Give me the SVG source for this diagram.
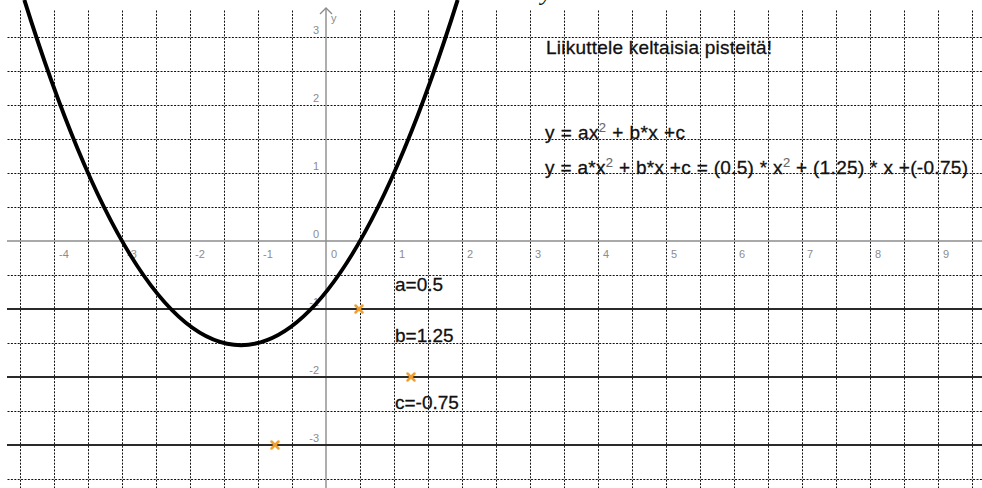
<svg xmlns="http://www.w3.org/2000/svg" width="982" height="488" viewBox="0 0 982 488">
  <style>
    .grid { stroke: #111; stroke-width: 1; stroke-dasharray: 2 1.4; fill: none; }
    .axis { stroke: #8c8c8c; stroke-width: 1.4; fill: none; }
    .slider { stroke: #2a2a2a; stroke-width: 2; fill: none; }
    .tick { font-family: "Liberation Sans", Arial, sans-serif; font-size: 11px; fill: #8c8c8c; }
    .lbl { font-family: "Liberation Sans", Arial, sans-serif; font-size: 19px; fill: #111; stroke: #111; stroke-width: 0.3; }
    .sup { font-size: 13px; fill: #666; stroke: #666; stroke-width: 0.1; }
    .pt { stroke: #f0a030; stroke-width: 2.5; stroke-linecap: round; }
  </style>
  <rect x="0" y="0" width="982" height="488" fill="#ffffff"/>

  <g id="grid" transform="translate(0.5,0.5)">
    <path class="grid" d="M20,10V488 M54,10V488 M88,10V488 M122,10V488 M156,10V488 M190,10V488 M224,10V488 M258,10V488 M292,10V488 M360,10V488 M394,10V488 M428,10V488 M462,10V488 M496,10V488 M530,10V488 M564,10V488 M598,10V488 M632,10V488 M666,10V488 M700,10V488 M734,10V488 M768,10V488 M802,10V488 M836,10V488 M870,10V488 M904,10V488 M938,10V488 M972,10V488"/>
    <path class="grid" d="M7,37H982 M7,71H982 M7,105H982 M7,139H982 M7,173H982 M7,207H982 M7,275H982 M7,309H982 M7,343H982 M7,377H982 M7,411H982 M7,445H982 M7,479H982"/>
  </g>

  <g id="axes">
    <path class="axis" d="M7,241H982"/>
    <path class="axis" d="M326,8V488"/>
    <path class="axis" d="M320,14L326,8L332,14"/>
    <text class="tick" x="331" y="22">y</text>
    <g id="x-ticks">
      <text class="tick" x="59" y="258">-4</text>
      <text class="tick" x="127" y="258">-3</text>
      <text class="tick" x="195" y="258">-2</text>
      <text class="tick" x="263" y="258">-1</text>
      <text class="tick" x="331" y="258">0</text>
      <text class="tick" x="399" y="258">1</text>
      <text class="tick" x="467" y="258">2</text>
      <text class="tick" x="535" y="258">3</text>
      <text class="tick" x="603" y="258">4</text>
      <text class="tick" x="671" y="258">5</text>
      <text class="tick" x="739" y="258">6</text>
      <text class="tick" x="807" y="258">7</text>
      <text class="tick" x="875" y="258">8</text>
      <text class="tick" x="943" y="258">9</text>
    </g>
    <g id="y-ticks" text-anchor="end">
      <text class="tick" x="319" y="34">3</text>
      <text class="tick" x="319" y="102">2</text>
      <text class="tick" x="319" y="170">1</text>
      <text class="tick" x="319" y="238">0</text>
      <text class="tick" x="319" y="306">-1</text>
      <text class="tick" x="319" y="374">-2</text>
      <text class="tick" x="319" y="442">-3</text>
    </g>
  </g>

  <g id="slider-lines">
    <path class="slider" d="M7,309H982 M7,377H982 M7,445H982"/>
  </g>

  <g id="parabola">
    <path d="M24.35,0 Q241,690.26 457.65,0" fill="none" stroke="#000" stroke-width="4"/>
  </g>

  <g id="points">
    <g id="point-a"><path class="pt" d="M355.5,305.5L362.5,312.5M362.5,305.5L355.5,312.5"/></g>
    <g id="point-b"><path class="pt" d="M407.5,373.5L414.5,380.5M414.5,373.5L407.5,380.5"/></g>
    <g id="point-c"><path class="pt" d="M271.5,441.5L278.5,448.5M278.5,441.5L271.5,448.5"/></g>
  </g>

  <g id="labels">
    <text x="541" y="0" font-family="'Liberation Serif', 'Times New Roman', serif" font-style="italic" font-size="24" fill="#111">y</text>
    <text class="lbl" x="546" y="54" textLength="226" lengthAdjust="spacing">Liikuttele keltaisia pisteitä!</text>
    <text class="lbl" x="545" y="138.5" textLength="140" lengthAdjust="spacing">y = ax<tspan class="sup" dy="-7">2</tspan><tspan dy="7"> + b*x +c</tspan></text>
    <text class="lbl" x="545" y="173.5" textLength="423" lengthAdjust="spacing">y = a*x<tspan class="sup" dy="-7">2</tspan><tspan dy="7"> + b*x +c = (0.5) * x</tspan><tspan class="sup" dy="-7">2</tspan><tspan dy="7"> + (1.25) * x +(-0.75)</tspan></text>
    <text class="lbl" x="395" y="291">a=0.5</text>
    <text class="lbl" x="395" y="341.5">b=1.25</text>
    <text class="lbl" x="395" y="409">c=-0.75</text>
  </g>
</svg>
